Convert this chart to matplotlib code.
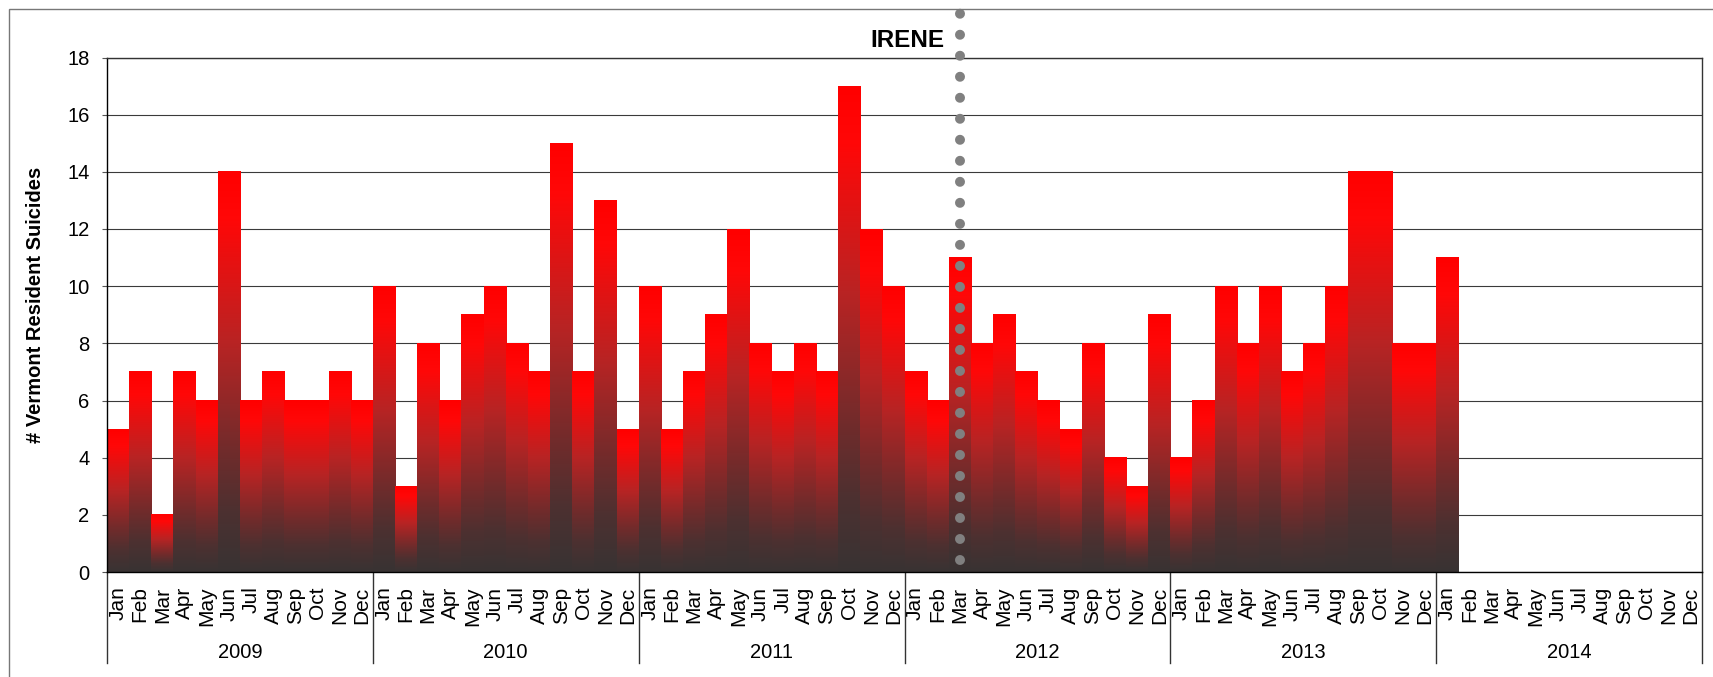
import numpy as np
import matplotlib
matplotlib.use("Agg")
import matplotlib.pyplot as plt
from matplotlib.colors import LinearSegmentedColormap
from matplotlib.patches import Rectangle

plt.rcParams['font.family'] = ['Liberation Sans', 'DejaVu Sans']

# ---------------- data ----------------
years = ['2009', '2010', '2011', '2012', '2013', '2014']
months = ['Jan', 'Feb', 'Mar', 'Apr', 'May', 'Jun',
          'Jul', 'Aug', 'Sep', 'Oct', 'Nov', 'Dec']
suicides_2009 = [5, 7, 2, 7, 6, 14, 6, 7, 6, 6, 7, 6]
suicides_2010 = [10, 3, 8, 6, 9, 10, 8, 7, 15, 7, 13, 5]
suicides_2011 = [10, 5, 7, 9, 12, 8, 7, 8, 7, 17, 12, 10]
suicides_2012 = [7, 6, 11, 8, 9, 7, 6, 5, 8, 4, 3, 9]
suicides_2013 = [4, 6, 10, 8, 10, 7, 8, 10, 14, 14, 8, 8]
suicides_2014 = [11, None, None, None, None, None, None, None, None, None, None, None]
yearly = [suicides_2009, suicides_2010, suicides_2011,
          suicides_2012, suicides_2013, suicides_2014]
event_label = 'IRENE'
event_year = '2012'
event_month = 'Mar'
y_ticks = [0, 2, 4, 6, 8, 10, 12, 14, 16, 18]
y_label = '# Vermont Resident Suicides'

# ---------------- figure ----------------
W, H = 1713, 677
fig = plt.figure(figsize=(W / 100, H / 100), dpi=100)
ax_l, ax_r, ax_t, ax_b = 107, 1702, 57.5, 572
ax = fig.add_axes([ax_l / W, 1 - ax_b / H, (ax_r - ax_l) / W, (ax_b - ax_t) / H])

# outer chart frame (extends beyond the image on right/bottom)
fig.patches.append(Rectangle((9 / W, -0.1), 1.2, 1 - 9 / H + 0.1,
                             transform=fig.transFigure, fill=False,
                             edgecolor='#777777', lw=1.0, zorder=0))

cmap = LinearSegmentedColormap.from_list(
    'redgrad',
    [(0.0, (0.22, 0.20, 0.20)),
     (0.15, (0.30, 0.19, 0.19)),
     (0.30, (0.44, 0.17, 0.17)),
     (0.57, (0.72, 0.14, 0.14)),
     (0.88, (1.0, 0.03, 0.03)),
     (1.0, (1.0, 0.0, 0.0))])
grad = np.linspace(0, 1, 256).reshape(-1, 1)

values = [v for yr in yearly for v in yr]
for i, v in enumerate(values):
    if v is None:
        continue
    ax.imshow(grad, extent=(i, i + 1, 0, v), origin='lower', cmap=cmap,
              vmin=0, vmax=1, aspect='auto', interpolation='bilinear', zorder=2)

n = len(values)
ax.set_xlim(0, n)
ax.set_ylim(0, 18)
ax.set_yticks(y_ticks)
ax.yaxis.grid(True, color='#3a3a3a', lw=0.8, zorder=1)
ax.set_axisbelow(True)
ax.tick_params(axis='y', length=3.6, width=0.8, color='#555555', pad=9,
               labelsize=14.5)
ax.set_xticks(np.arange(n) + 0.5)
ax.set_xticklabels(months * len(years), rotation=90)
ax.tick_params(axis='x', length=0, pad=10.5, labelsize=15)
for s in ['top', 'right']:
    ax.spines[s].set_color('#333333')
    ax.spines[s].set_linewidth(1.0)
for s in ['left', 'bottom']:
    ax.spines[s].set_color('black')
    ax.spines[s].set_linewidth(1.0)

# year group separators and labels
sep_depth = (663 - ax_b) / (ax_b - ax_t)
year_y = -(652 - ax_b) / (ax_b - ax_t)
xt = ax.get_xaxis_transform()
for k in range(len(years) + 1):
    ax.plot([k * 12, k * 12], [0, -sep_depth], transform=xt, color='#333333',
            lw=1.0, clip_on=False)
for k, yr in enumerate(years):
    ax.text(k * 12 + 6, year_y, yr, transform=xt, ha='center', va='center',
            fontsize=14.5)

# event line
ex = years.index(event_year) * 12 + months.index(event_month) + 0.5
ax.plot([ex, ex], [0.42, 19.62], color='#808080', lw=7.2,
        linestyle=(0, (0.001, 2.1)), dash_capstyle='round', clip_on=False,
        zorder=5)
ax.annotate(event_label, xy=(ex, 18.6), xytext=(-11, 0),
            textcoords='offset points', ha='right', va='center',
            fontsize=17.5, fontweight='bold', annotation_clip=False)

fig.text(35.5 / W, 1 - 305 / H, y_label, rotation=90, ha='center', va='center',
         fontsize=14.5, fontweight='bold')

fig.savefig('out.png', dpi=100)
